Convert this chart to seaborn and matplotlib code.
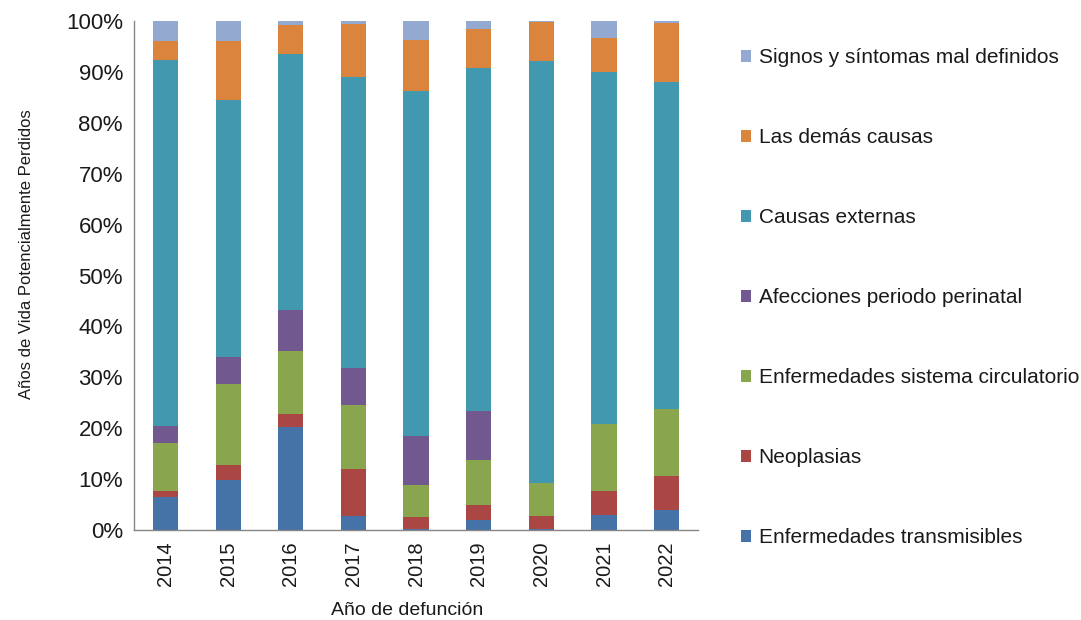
import matplotlib
matplotlib.use('Agg')
import matplotlib.pyplot as plt
from matplotlib.patches import Patch
from matplotlib.ticker import FixedLocator, FuncFormatter
import pandas as pd
import seaborn as sns

years = ['2014', '2015', '2016', '2017', '2018', '2019', '2020', '2021', '2022']

# stacking / legend order, top to bottom
causes = [
    'Signos y síntomas mal definidos',
    'Las demás causas',
    'Causas externas',
    'Afecciones periodo perinatal',
    'Enfermedades sistema circulatorio',
    'Neoplasias',
    'Enfermedades transmisibles',
]

# % of potential years of life lost, per year
signos = [3.9, 3.9, 0.7, 0.5, 3.7, 1.6, 0.1, 3.3, 0.3]
demas = [3.8, 11.6, 5.8, 10.5, 10.1, 7.7, 7.8, 6.7, 11.7]
externas = [71.8, 50.5, 50.3, 57.2, 67.8, 67.4, 82.8, 69.1, 64.3]
perinatal = [3.3, 5.3, 8.1, 7.3, 9.6, 9.6, 0.0, 0.0, 0.0]
circulatorio = [9.5, 16.0, 12.2, 12.4, 6.2, 8.8, 6.5, 13.2, 13.0]
neoplasias = [1.2, 2.8, 2.6, 9.4, 2.4, 3.0, 2.6, 4.8, 6.8]
transmisibles = [6.5, 9.9, 20.3, 2.7, 0.2, 1.9, 0.2, 2.9, 3.9]

colors = ['#93A9CF', '#DB843D', '#4198AF', '#71588F', '#89A54E', '#AA4643', '#4572A7']

series = [signos, demas, externas, perinatal, circulatorio, neoplasias, transmisibles]
rows = []
for cause, vals in zip(causes, series):
    for yr, v in zip(years, vals):
        rows.append({'year': yr, 'cause': cause, 'pct': v})
df = pd.DataFrame(rows)

sns.set_style('white')
plt.rcParams['font.family'] = ['Liberation Sans', 'DejaVu Sans']

fig = plt.figure(figsize=(10.81, 6.2), dpi=100)
ax = fig.add_axes([0.124, 0.145, 0.5217, 0.821])

sns.histplot(data=df, x='year', hue='cause', weights='pct', hue_order=causes,
             multiple='stack', discrete=True, shrink=0.4, palette=colors,
             alpha=1, linewidth=0, legend=False, ax=ax)

ax.set_xlim(-0.5, len(years) - 0.5)
ax.set_ylim(0, 100)

grey = '#868686'
for side in ['top', 'right']:
    ax.spines[side].set_visible(False)
for side in ['left', 'bottom']:
    ax.spines[side].set_color(grey)
    ax.spines[side].set_linewidth(1)

ax.set_yticks(range(0, 101, 10))
ax.yaxis.set_major_formatter(FuncFormatter(lambda v, p: f'{v:.0f}%'))
ax.tick_params(axis='y', direction='out', length=5, color=grey, labelsize=16, pad=3,
               labelcolor='#1a1a1a')

ax.set_xticks(range(len(years)))
ax.set_xticklabels(years, rotation=90, fontsize=14.5)
ax.xaxis.set_minor_locator(FixedLocator([i - 0.5 for i in range(len(years) + 1)]))
ax.tick_params(axis='x', which='major', length=0, pad=8, labelcolor='#1a1a1a')
ax.tick_params(axis='x', which='minor', direction='out', length=6, color=grey)

ax.set_xlabel('Año de defunción', fontsize=14, color='#1a1a1a')
ax.xaxis.set_label_coords(0.485, -0.142)
ax.set_ylabel('Años de Vida Potencialmente Perdidos', fontsize=12, color='#1a1a1a')
ax.yaxis.set_label_coords(-0.178, 0.542)

handles = [Patch(facecolor=c, edgecolor='none') for c in colors]
ax.legend(handles, causes, loc='upper left', bbox_to_anchor=(741 / 1081, 1 - 48 / 620),
          bbox_transform=fig.transFigure, frameon=False, fontsize=15,
          handlelength=0.5, handleheight=0.5, handletextpad=0.35,
          labelspacing=2.93, borderpad=0, borderaxespad=0, labelcolor='#1a1a1a')

fig.savefig('out.png', dpi=100)
plt.close(fig)
